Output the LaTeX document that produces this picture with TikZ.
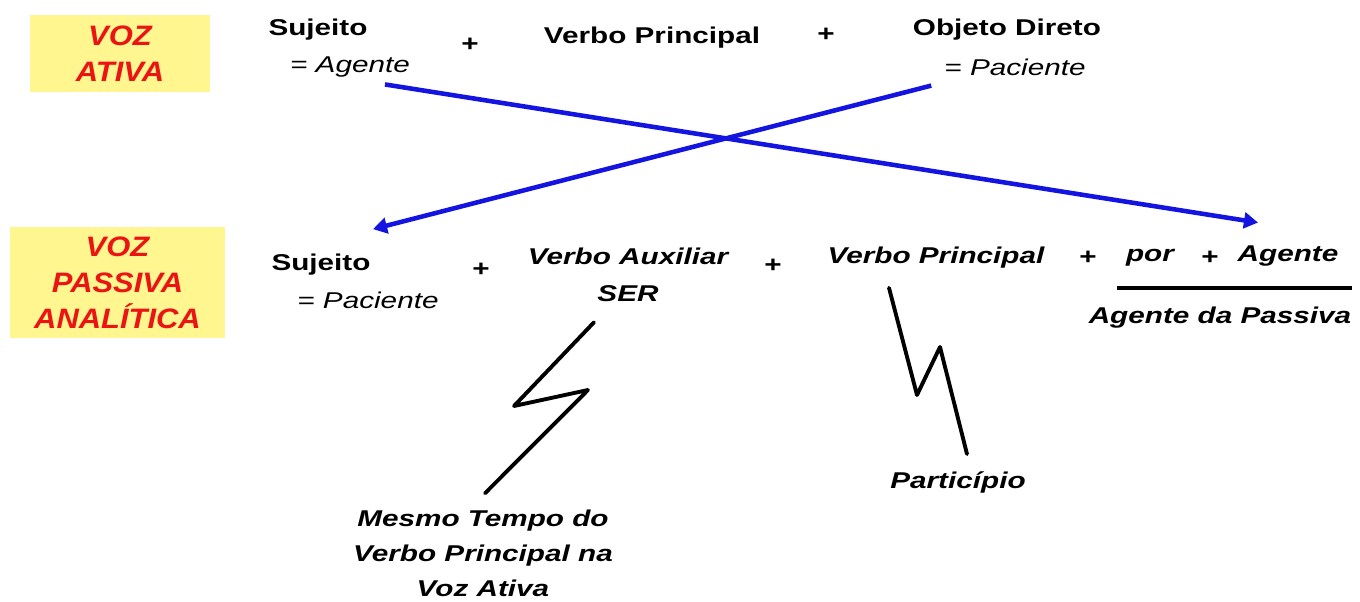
\documentclass[tikz,border=0pt]{standalone}
\usepackage{fontspec}
\setmainfont{Liberation Sans}
\newfontfamily\largo{Liberation Sans}[FakeStretch=1.3]
\newfontfamily\rotulo{Liberation Sans}[FakeStretch=1.1]
\usetikzlibrary{arrows.meta,calc}

\definecolor{amarelo}{RGB}{255,246,143}
\definecolor{vermelho}{RGB}{235,20,20}
\definecolor{azul}{RGB}{20,20,225}

\tikzset{
  voz/.style={fill=amarelo,text=vermelho,align=center,inner sep=0pt,
    font=\rotulo\fontsize{16}{20.5}\selectfont\bfseries\itshape},
  termo/.style={font=\largo\fontsize{13}{20}\selectfont\bfseries},
  termoit/.style={font=\largo\fontsize{13}{20}\selectfont\bfseries\itshape,align=center},
  papel/.style={font=\largo\fontsize{13}{20}\selectfont\itshape},
  seta/.style={azul,line width=2.6pt,-{Triangle[length=8pt,width=9pt]}},
  raio/.style={line width=2.2pt,line join=round,line cap=round},
}

\begin{document}
\begin{tikzpicture}[x=0.02cm,y=-0.02cm]
\useasboundingbox (0,0) rectangle (1360,602);
%\scriptsize
% voz ativa
\node[voz,minimum width=3.6cm,minimum height=1.54cm] (ativa) at (120,53.5) {VOZ\\ATIVA};
\node[termo] (sujA) at (318,30) {Sujeito};
\node[papel] (agA) at (350,67) {= Agente};
\node[termo] (maisA1) at (470,45) {+};
\node[termo] (vpA) at (652,38) {Verbo Principal};
\node[termo] (maisA2) at (826,35) {+};
\node[termo] (odA) at (1007,30) {Objeto Direto};
\node[papel] (pacA) at (1015,67) {= Paciente};
% voz passiva
\node[voz,minimum width=4.3cm,minimum height=2.22cm] (passiva) at (117.5,282.5) {VOZ\\PASSIVA\\ANALÍTICA};
\node[termo] (sujP) at (321,265) {Sujeito};
\node[papel] (pacP) at (368,300) {= Paciente};
\node[termo] (maisP1) at (481,270) {+};
\node[termoit] (vaux) at (628,256) {Verbo Auxiliar};
\node[termoit] (ser) at (628,294) {SER};
\node[termo] (maisP2) at (773,266) {+};
\node[termoit] (vpP) at (936,258) {Verbo Principal};
\node[termo] (maisP3) at (1088,258) {+};
\node[termoit] (por) at (1150,258) {por};
\node[termo] (maisP4) at (1210,258) {+};
\node[termoit] (agP) at (1288,256) {Agente};
\node[termoit] (agpass) at (1220,318) {Agente da Passiva};
\draw[line width=2.4pt] (1117,288) -- (1352,288);
\node[termoit] (tempo) at (483,553) {Mesmo Tempo do\\Verbo Principal na\\Voz Ativa};
\node[termoit] (part) at (958,482) {Particípio};
% setas cruzadas
\draw[seta] ($(agA.south)+(35,1)$) -- ($(agP.north)+(-30,-17)$);
\draw[seta] ($(pacA.south west)+(-7,4)$) -- ($(sujP.north)+(52,-19)$);
% raios
\draw[raio] ($(ser.south)+(-34,14)$) -- (514,406) -- (588,390) -- ($(tempo.north)+(2,-10)$);
\draw[raio] ($(vpP.south)+(-47,13)$) -- (917,395) -- (940,347) -- ($(part.north)+(9,-11)$);
\end{tikzpicture}
\end{document}
